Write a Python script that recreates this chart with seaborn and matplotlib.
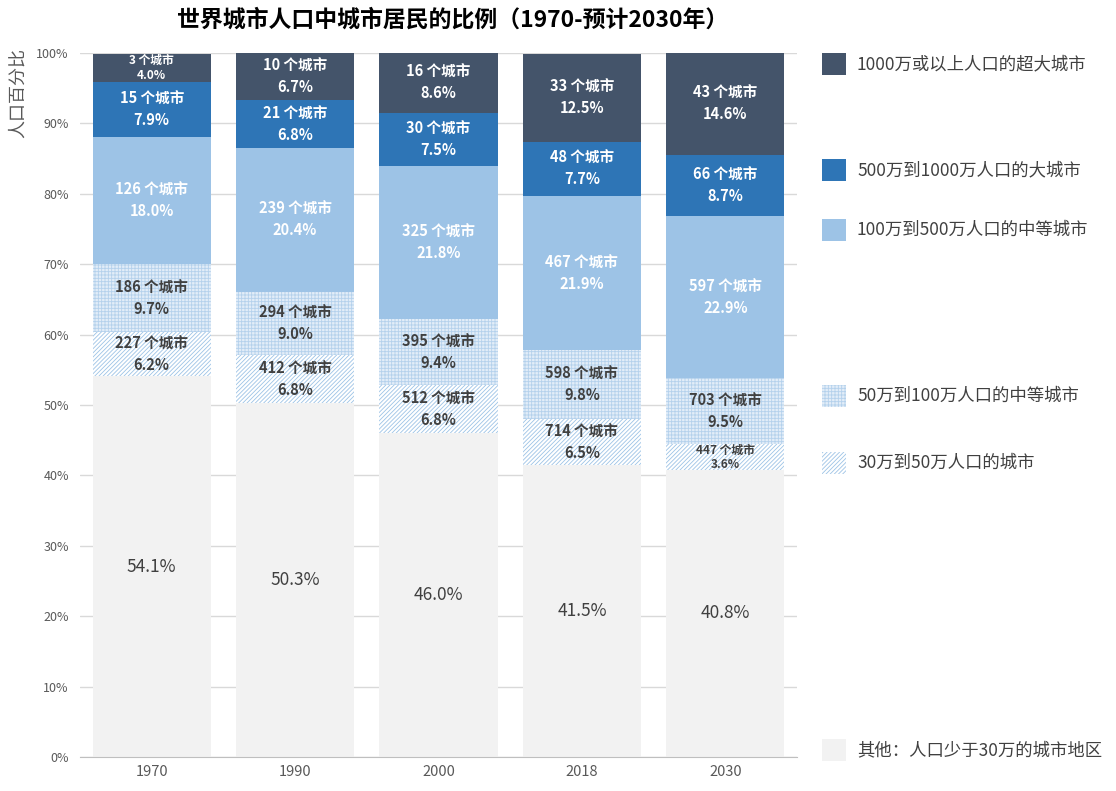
import numpy as np
import pandas as pd
import matplotlib
matplotlib.use("Agg")
import matplotlib.pyplot as plt
from matplotlib.patches import Rectangle
from matplotlib.ticker import FuncFormatter
import seaborn as sns

sns.set_style("white")
plt.rcParams['font.family'] = ['Noto Sans CJK SC', 'DejaVu Sans']
plt.rcParams['hatch.linewidth'] = 0.6

years = ["1970", "1990", "2000", "2018", "2030"]

# shares (%) bottom -> top
other_pct = [54.1, 50.3, 46.0, 41.5, 40.8]
c30_50_pct = [6.2, 6.8, 6.8, 6.5, 3.6]
c50_100_pct = [9.7, 9.0, 9.4, 9.8, 9.5]
c100_500_pct = [18.0, 20.4, 21.8, 21.9, 22.9]
c500_1000_pct = [7.9, 6.8, 7.5, 7.7, 8.7]
mega_pct = [4.0, 6.7, 8.6, 12.5, 14.6]

# number of cities
c30_50_n = [227, 412, 512, 714, 447]
c50_100_n = [186, 294, 395, 598, 703]
c100_500_n = [126, 239, 325, 467, 597]
c500_1000_n = [15, 21, 30, 48, 66]
mega_n = [3, 10, 16, 33, 43]

labels = ["其他：人口少于30万的城市地区", "30万到50万人口的城市", "50万到100万人口的中等城市",
          "100万到500万人口的中等城市", "500万到1000万人口的大城市", "1000万或以上人口的超大城市"]

series = [
    (other_pct, None, dict(facecolor="#F2F2F2", edgecolor="#F2F2F2", hatch=None)),
    (c30_50_pct, c30_50_n, dict(facecolor="white", edgecolor="#9DC3E6", hatch="////////")),
    (c50_100_pct, c50_100_n, dict(facecolor="#E2EDF8", edgecolor="#B4D1EC", hatch="+++++")),
    (c100_500_pct, c100_500_n, dict(facecolor="#9DC3E6", edgecolor="#9DC3E6", hatch=None)),
    (c500_1000_pct, c500_1000_n, dict(facecolor="#2E75B6", edgecolor="#2E75B6", hatch=None)),
    (mega_pct, mega_n, dict(facecolor="#44546A", edgecolor="#44546A", hatch=None)),
]
text_colors = ["#404040", "#404040", "#404040", "white", "white", "white"]

fig = plt.figure(figsize=(11.16, 7.91), dpi=100)
ax = fig.add_axes([80 / 1116, 1 - 757 / 791, 717 / 1116, 704 / 791])

bottom = np.zeros(len(years))
for i, (vals, counts, st) in enumerate(series):
    df = pd.DataFrame({"year": years, "pct": vals})
    sns.barplot(data=df, x="year", y="pct", order=years, ax=ax, width=0.825,
                saturation=1, bottom=bottom, color=st["facecolor"],
                edgecolor=st["edgecolor"], hatch=st["hatch"], linewidth=0,
                zorder=2)
    for j, v in enumerate(vals):
        yc = bottom[j] + v / 2
        if counts is None:
            ax.text(j, yc, f"{v:.1f}%", ha="center", va="center",
                    fontsize=12.5, color="#404040", zorder=5)
        else:
            small = v < 5
            ax.text(j, yc, f"{counts[j]} 个城市\n{v:.1f}%", ha="center", va="center",
                    fontsize=8.5 if small else 10.5, fontweight="bold",
                    color=text_colors[i], linespacing=1.15 if small else 1.4, zorder=5)
    bottom = bottom + np.array(vals)

ax.set_ylim(0, 100)
ax.set_xlim(-0.5, 4.5)
ax.set_yticks(np.arange(0, 101, 10))
ax.yaxis.set_major_formatter(FuncFormatter(lambda v, p: f"{v:.0f}%"))
ax.grid(axis="y", color="#D9D9D9", linewidth=1, zorder=0)
ax.set_axisbelow(True)
for s in ["top", "right", "left"]:
    ax.spines[s].set_visible(False)
ax.spines["bottom"].set_color("#BFBFBF")
ax.tick_params(axis="y", length=0, labelsize=9, labelcolor="#595959", pad=8)
ax.tick_params(axis="x", length=0, labelsize=10.5, labelcolor="#595959", pad=6)
ax.set_xlabel("")
ax.set_ylabel("")
fig.text(18 / 1116, 1 - 93 / 791, "人口百分比", rotation=90, ha="center", va="center",
         fontsize=13, color="#595959")

fig.text(453 / 1116, 1 - 20 / 791, "世界城市人口中城市居民的比例（1970-预计2030年）",
         ha="center", va="center", fontsize=16.5, fontweight="bold", color="#000000")

# legend entries, placed beside the bars
legend_y = [750, 463, 396, 230, 170, 64]
for (vals, counts, st), lab, yy in zip(series, labels, legend_y):
    fig.patches.append(Rectangle((822 / 1116, 1 - (yy + 11) / 791), 24 / 1116, 22 / 791,
                                 transform=fig.transFigure, facecolor=st["facecolor"],
                                 edgecolor=st["edgecolor"], hatch=st["hatch"], linewidth=0))
    fig.text(857 / 1116, 1 - yy / 791, lab, ha="left", va="center",
             fontsize=12.5, color="#404040")

fig.savefig("out.png", dpi=100)
